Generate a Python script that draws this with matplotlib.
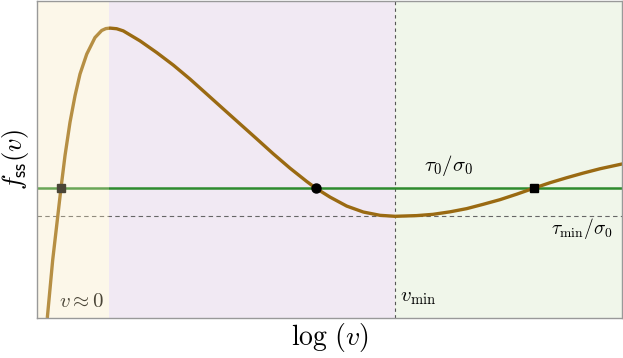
import matplotlib
matplotlib.use("Agg")
import matplotlib.pyplot as plt

plt.rcParams['mathtext.fontset'] = 'cm'

# curve (log v and f_ss in arbitrary units)
log_v = [0.176, 0.268, 0.337, 0.410, 0.479, 0.564, 0.650, 0.735, 0.850, 0.991,
         1.106, 1.176, 1.248, 1.362, 1.475, 1.761, 2.046, 2.330, 2.615, 2.901,
         3.185, 3.470, 3.756, 4.039, 4.325, 4.610, 4.764, 5.009, 5.294, 5.578,
         5.863, 6.120, 6.491, 6.769, 7.060, 7.345, 7.624, 7.915, 8.205, 8.496,
         8.769, 9.055, 9.333, 9.624, 10.017]
f_ss = [0.000, 1.824, 2.925, 4.097, 5.126, 6.173, 7.013, 7.695, 8.324, 8.846,
        9.070, 9.129, 9.145, 9.125, 9.057, 8.742, 8.374, 7.978, 7.538, 7.066,
        6.594, 6.123, 5.651, 5.179, 4.726, 4.308, 4.097, 3.814, 3.531, 3.343,
        3.239, 3.208, 3.230, 3.270, 3.349, 3.450, 3.585, 3.733, 3.909, 4.097,
        4.267, 4.425, 4.569, 4.708, 4.865]

tau0 = 4.097
tau_min = 3.208
v_min = 6.12
v_peak = 1.23
fixed_x = [0.410, 4.764, 8.496]   # steady states on the tau0 line

fig = plt.figure(figsize=(6.23, 3.58), dpi=100)
ax = fig.add_axes([37/623, 40/358, 585/623, 317/358])
ax.set_xlim(0, 10)
ax.set_ylim(0, 10)

ax.axvspan(v_peak, v_min, color='#f1e9f3', zorder=0, lw=0)
ax.axvspan(v_min, 10, color='#f0f6ea', zorder=0, lw=0)

ax.axhline(tau_min, color='#666666', ls='--', lw=0.8, dashes=(4, 3), zorder=1)
ax.axvline(v_min, color='#555555', ls='--', lw=0.8, dashes=(3, 3), zorder=1)
ax.axhline(tau0, color='#2e8b2e', lw=1.8, zorder=2)
ax.plot(log_v, f_ss, color='#9a6a12', lw=2.4, zorder=3,
        solid_joinstyle='round', solid_capstyle='butt')

ax.plot(fixed_x[0], tau0, 's', color='black', ms=5.5, zorder=4)
ax.plot(fixed_x[1], tau0, 'o', color='black', ms=6.5, zorder=4)
ax.plot(fixed_x[2], tau0, 's', color='black', ms=5.5, zorder=4)

ax.text(0.77, 0.55, r'$v \approx 0$', fontsize=15, color='black',
        ha='center', va='center', zorder=2)
# light overlay on the v ~ 0 region
ax.axvspan(0, v_peak, color='#f7e6b8', alpha=0.3, zorder=5, lw=0)

ax.text(7.03, 4.82, r'$\tau_0/\sigma_0$', fontsize=15, ha='center', va='center', zorder=6)
ax.text(9.83, 2.83, r'$\tau_{\min}/\sigma_0$', fontsize=14, ha='right', va='center', zorder=6)
ax.text(6.21, 0.66, r'$v_{\min}$', fontsize=15, ha='left', va='center', zorder=6)

ax.set_xlabel(r'$\log\,(v)$', fontsize=20, labelpad=2)
ax.set_ylabel(r'$f_{\mathsf{ss}}(v)$', fontsize=19, labelpad=4)
ax.set_xticks([])
ax.set_yticks([])
for s in ax.spines.values():
    s.set_color('#999999')
    s.set_linewidth(1.0)
    s.set_zorder(7)

fig.savefig('out.png', dpi=100)
